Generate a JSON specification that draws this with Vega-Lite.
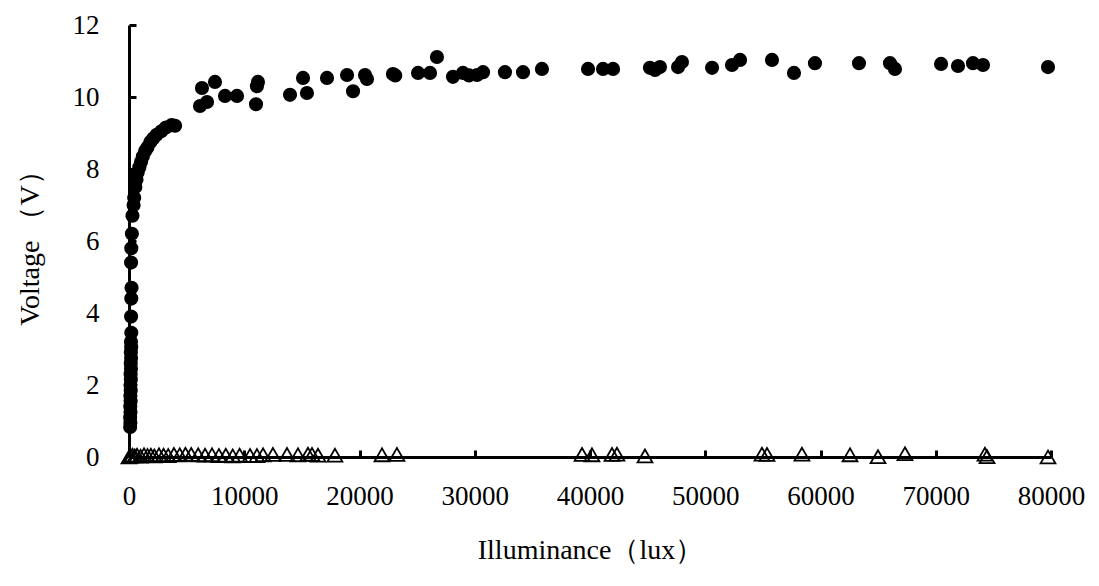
{
  "$schema": "https://vega.github.io/schema/vega-lite/v6.json",
  "autosize": {"type": "none"},
  "padding": {"left": 129, "top": 25, "right": 48, "bottom": 129},
  "width": 922,
  "height": 432,
  "background": "white",
  "config": {
    "view": {"stroke": null},
    "font": "Liberation Serif",
    "axis": {
      "grid": false,
      "domainColor": "black",
      "domainWidth": 3,
      "tickColor": "black",
      "tickWidth": 3,
      "tickSize": -7,
      "labelFont": "Liberation Serif",
      "labelFontSize": 27,
      "labelColor": "black",
      "titleFont": "Liberation Serif",
      "titleFontSize": 28,
      "titleFontWeight": "normal",
      "titleColor": "black"
    }
  },
  "datasets": {
    "pts": [
      {"lux": 100, "v": 0.83, "s": "a"}, {"lux": 120, "v": 0.95, "s": "a"}, {"lux": 100, "v": 1.1, "s": "a"},
      {"lux": 130, "v": 1.25, "s": "a"}, {"lux": 110, "v": 1.4, "s": "a"}, {"lux": 140, "v": 1.55, "s": "a"},
      {"lux": 120, "v": 1.7, "s": "a"}, {"lux": 150, "v": 1.85, "s": "a"}, {"lux": 130, "v": 2.0, "s": "a"},
      {"lux": 160, "v": 2.15, "s": "a"}, {"lux": 140, "v": 2.3, "s": "a"}, {"lux": 170, "v": 2.45, "s": "a"},
      {"lux": 150, "v": 2.6, "s": "a"}, {"lux": 180, "v": 2.75, "s": "a"}, {"lux": 160, "v": 2.9, "s": "a"},
      {"lux": 190, "v": 3.05, "s": "a"}, {"lux": 170, "v": 3.2, "s": "a"}, {"lux": 200, "v": 3.45, "s": "a"},
      {"lux": 180, "v": 3.9, "s": "a"}, {"lux": 200, "v": 4.4, "s": "a"}, {"lux": 220, "v": 4.7, "s": "a"},
      {"lux": 180, "v": 5.4, "s": "a"}, {"lux": 200, "v": 5.8, "s": "a"}, {"lux": 250, "v": 6.2, "s": "a"},
      {"lux": 300, "v": 6.7, "s": "a"}, {"lux": 400, "v": 7.0, "s": "a"}, {"lux": 450, "v": 7.2, "s": "a"},
      {"lux": 550, "v": 7.5, "s": "a"}, {"lux": 650, "v": 7.7, "s": "a"}, {"lux": 750, "v": 7.9, "s": "a"},
      {"lux": 900, "v": 8.05, "s": "a"}, {"lux": 1050, "v": 8.2, "s": "a"}, {"lux": 1200, "v": 8.35, "s": "a"},
      {"lux": 1400, "v": 8.5, "s": "a"}, {"lux": 1600, "v": 8.6, "s": "a"}, {"lux": 1850, "v": 8.75, "s": "a"},
      {"lux": 2100, "v": 8.85, "s": "a"}, {"lux": 2400, "v": 8.95, "s": "a"}, {"lux": 2800, "v": 9.05, "s": "a"},
      {"lux": 3200, "v": 9.15, "s": "a"}, {"lux": 3700, "v": 9.22, "s": "a"}, {"lux": 4000, "v": 9.2, "s": "a"},
      {"lux": 6160, "v": 9.75, "s": "a"}, {"lux": 6330, "v": 10.25, "s": "a"}, {"lux": 6770, "v": 9.86, "s": "a"},
      {"lux": 7460, "v": 10.42, "s": "a"}, {"lux": 8330, "v": 10.03, "s": "a"}, {"lux": 9370, "v": 10.03, "s": "a"},
      {"lux": 11020, "v": 9.8, "s": "a"}, {"lux": 11100, "v": 10.3, "s": "a"}, {"lux": 11190, "v": 10.42, "s": "a"},
      {"lux": 13970, "v": 10.06, "s": "a"}, {"lux": 15100, "v": 10.53, "s": "a"}, {"lux": 15440, "v": 10.11, "s": "a"},
      {"lux": 17180, "v": 10.53, "s": "a"}, {"lux": 18920, "v": 10.61, "s": "a"}, {"lux": 19440, "v": 10.16, "s": "a"},
      {"lux": 20480, "v": 10.61, "s": "a"}, {"lux": 20650, "v": 10.5, "s": "a"}, {"lux": 22900, "v": 10.64, "s": "a"},
      {"lux": 23100, "v": 10.6, "s": "a"}, {"lux": 25080, "v": 10.67, "s": "a"}, {"lux": 26120, "v": 10.67, "s": "a"},
      {"lux": 26720, "v": 11.11, "s": "a"}, {"lux": 28110, "v": 10.56, "s": "a"}, {"lux": 28980, "v": 10.67, "s": "a"},
      {"lux": 29500, "v": 10.6, "s": "a"}, {"lux": 30200, "v": 10.61, "s": "a"}, {"lux": 30720, "v": 10.69, "s": "a"},
      {"lux": 32620, "v": 10.69, "s": "a"}, {"lux": 34190, "v": 10.69, "s": "a"}, {"lux": 35830, "v": 10.78, "s": "a"},
      {"lux": 39830, "v": 10.78, "s": "a"}, {"lux": 41130, "v": 10.78, "s": "a"}, {"lux": 42000, "v": 10.78, "s": "a"},
      {"lux": 45200, "v": 10.81, "s": "a"}, {"lux": 45640, "v": 10.75, "s": "a"}, {"lux": 46070, "v": 10.83, "s": "a"},
      {"lux": 47640, "v": 10.83, "s": "a"}, {"lux": 47980, "v": 10.97, "s": "a"}, {"lux": 50590, "v": 10.81, "s": "a"},
      {"lux": 52320, "v": 10.89, "s": "a"}, {"lux": 53020, "v": 11.03, "s": "a"}, {"lux": 55790, "v": 11.03, "s": "a"},
      {"lux": 57700, "v": 10.67, "s": "a"}, {"lux": 59520, "v": 10.94, "s": "a"}, {"lux": 63340, "v": 10.94, "s": "a"},
      {"lux": 66030, "v": 10.94, "s": "a"}, {"lux": 66460, "v": 10.78, "s": "a"}, {"lux": 70460, "v": 10.92, "s": "a"},
      {"lux": 71930, "v": 10.86, "s": "a"}, {"lux": 73230, "v": 10.94, "s": "a"}, {"lux": 74100, "v": 10.89, "s": "a"},
      {"lux": 79740, "v": 10.83, "s": "a"},
      {"lux": 0, "v": 0.0, "s": "b"}, {"lux": 150, "v": 0.02, "s": "b"}, {"lux": 300, "v": 0.05, "s": "b"},
      {"lux": 500, "v": 0.03, "s": "b"}, {"lux": 700, "v": 0.05, "s": "b"}, {"lux": 1000, "v": 0.02, "s": "b"},
      {"lux": 1300, "v": 0.06, "s": "b"}, {"lux": 1600, "v": 0.04, "s": "b"}, {"lux": 1900, "v": 0.05, "s": "b"},
      {"lux": 2200, "v": 0.03, "s": "b"}, {"lux": 2600, "v": 0.06, "s": "b"}, {"lux": 3000, "v": 0.05, "s": "b"},
      {"lux": 3400, "v": 0.04, "s": "b"}, {"lux": 3900, "v": 0.07, "s": "b"}, {"lux": 4400, "v": 0.06, "s": "b"},
      {"lux": 4900, "v": 0.08, "s": "b"}, {"lux": 5400, "v": 0.07, "s": "b"}, {"lux": 6000, "v": 0.06, "s": "b"},
      {"lux": 6600, "v": 0.05, "s": "b"}, {"lux": 7200, "v": 0.06, "s": "b"}, {"lux": 7800, "v": 0.04, "s": "b"},
      {"lux": 8400, "v": 0.05, "s": "b"}, {"lux": 9000, "v": 0.03, "s": "b"}, {"lux": 9600, "v": 0.05, "s": "b"},
      {"lux": 10500, "v": 0.04, "s": "b"}, {"lux": 11100, "v": 0.04, "s": "b"}, {"lux": 11630, "v": 0.06, "s": "b"},
      {"lux": 12490, "v": 0.07, "s": "b"}, {"lux": 13710, "v": 0.07, "s": "b"}, {"lux": 14660, "v": 0.06, "s": "b"},
      {"lux": 15530, "v": 0.08, "s": "b"}, {"lux": 15880, "v": 0.07, "s": "b"}, {"lux": 16400, "v": 0.05, "s": "b"},
      {"lux": 17870, "v": 0.05, "s": "b"}, {"lux": 21950, "v": 0.06, "s": "b"}, {"lux": 23250, "v": 0.07, "s": "b"},
      {"lux": 39310, "v": 0.07, "s": "b"}, {"lux": 40170, "v": 0.06, "s": "b"}, {"lux": 41910, "v": 0.07, "s": "b"},
      {"lux": 42340, "v": 0.08, "s": "b"}, {"lux": 44770, "v": 0.03, "s": "b"}, {"lux": 54920, "v": 0.08, "s": "b"},
      {"lux": 55360, "v": 0.07, "s": "b"}, {"lux": 58390, "v": 0.08, "s": "b"}, {"lux": 62560, "v": 0.06, "s": "b"},
      {"lux": 64990, "v": 0.01, "s": "b"}, {"lux": 67330, "v": 0.09, "s": "b"}, {"lux": 74270, "v": 0.08, "s": "b"},
      {"lux": 74450, "v": 0.01, "s": "b"}, {"lux": 79740, "v": 0.0, "s": "b"}
    ]
  },
  "data": {"name": "pts"},
  "encoding": {
    "x": {
      "field": "lux", "type": "quantitative",
      "scale": {"domain": [0, 80000], "nice": false},
      "axis": {"values": [0, 10000, 20000, 30000, 40000, 50000, 60000, 70000, 80000], "format": "d", "labelPadding": 33, "title": "Illuminance（lux）", "titlePadding": 27, "labelFlush": false}
    },
    "y": {
      "field": "v", "type": "quantitative",
      "scale": {"domain": [0, 12], "nice": false},
      "axis": {"values": [0, 2, 4, 6, 8, 10, 12], "labelPadding": 37, "title": "Voltage （V）", "titlePadding": 28, "labelFlush": false}
    }
  },
  "layer": [
    {
      "transform": [{"filter": "datum.s === 'b'"}],
      "mark": {"type": "point", "shape": "triangle-up", "filled": false, "stroke": "black", "strokeWidth": 1.8, "size": 220, "opacity": 1}
    },
    {
      "transform": [{"filter": "datum.s === 'a'"}],
      "mark": {"type": "circle", "color": "black", "size": 200, "opacity": 1}
    }
  ]
}
